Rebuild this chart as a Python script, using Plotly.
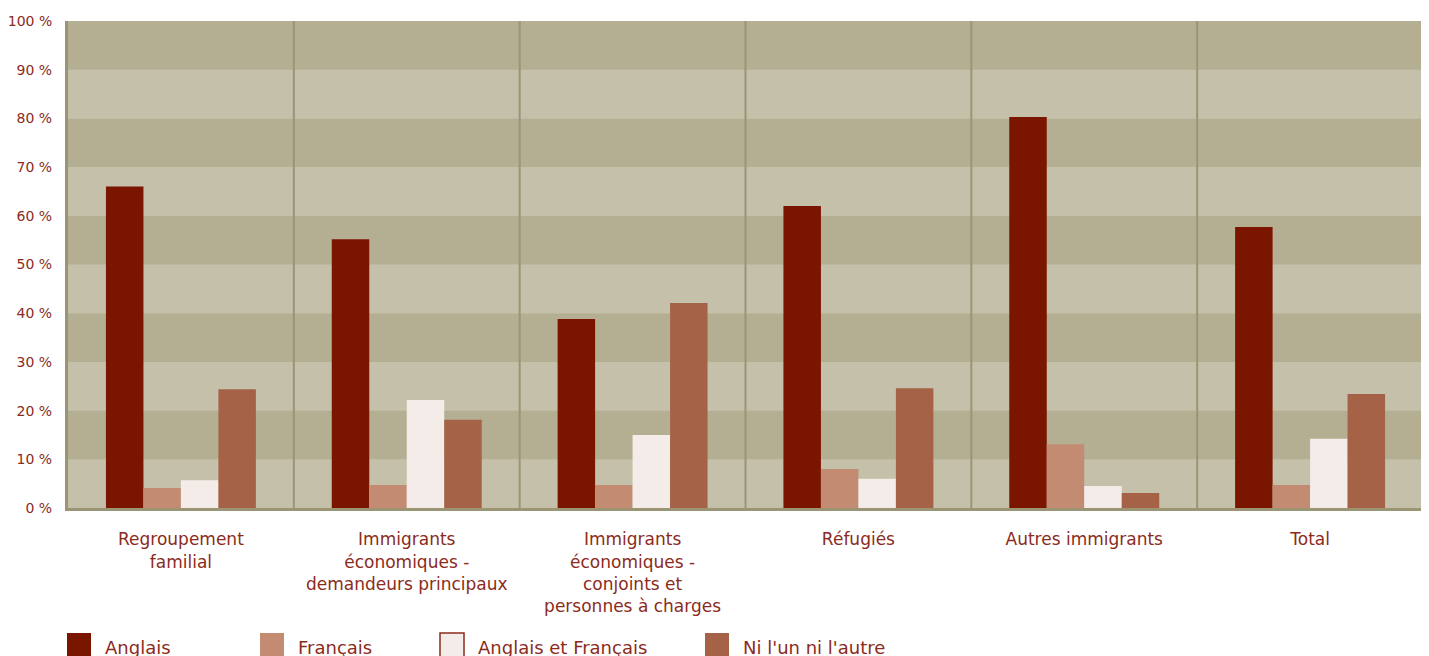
import plotly.graph_objects as go

categories = ["Regroupement<br>familial",
              "Immigrants<br>économiques -<br>demandeurs principaux",
              "Immigrants<br>économiques -<br>conjoints et<br>personnes à charges",
              "Réfugiés",
              "Autres immigrants",
              "Total"]
series_names = ["Anglais", "Français", "Anglais et Français", "Ni l'un ni l'autre"]
anglais = [66.0, 55.2, 38.8, 62.0, 80.3, 57.7]
francais = [4.1, 4.7, 4.7, 8.0, 13.1, 4.7]
anglais_francais = [5.7, 22.2, 15.0, 6.0, 4.5, 14.2]
ni_lun_ni_lautre = [24.4, 18.1, 42.1, 24.6, 3.1, 23.4]
y_ticks = [0, 10, 20, 30, 40, 50, 60, 70, 80, 90, 100]
y_tick_labels = ["0 %", "10 %", "20 %", "30 %", "40 %", "50 %", "60 %", "70 %", "80 %", "90 %", "100 %"]

colors = ["#7a1500", "#c48b73", "#f4ece8", "#a66247"]
text_color = "#8b2b1c"
axis_color = "#9a9574"
dark_band = "#b4af93"
light_band = "#c5c0aa"
font_family = "'DejaVu Sans', sans-serif"

# page body has an 8px default margin
OFF = 8
W, H = 1429 - OFF, 656 - OFF
L, R, T, B = 68 - OFF, 6, 21 - OFF, 148
pw, ph = W - L - R, H - T - B

def px_x(xp):
    return (xp - OFF - L) / pw

def px_y(yp):
    return (OFF + T + ph - yp) / ph

fig = go.Figure()
for name, vals, c in zip(series_names, [anglais, francais, anglais_francais, ni_lun_ni_lautre], colors):
    fig.add_trace(go.Bar(name=name, x=categories, y=vals, marker=dict(color=c, line=dict(width=0)),
                         showlegend=False))

shapes = []
for i in range(10):
    shapes.append(dict(type="rect", xref="paper", yref="y", x0=0, x1=1, y0=i * 10, y1=i * 10 + 10,
                       fillcolor=dark_band if i % 2 == 1 else light_band, line=dict(width=0), layer="below"))
for i in range(1, len(categories)):
    shapes.append(dict(type="line", xref="x", yref="paper", x0=i - 0.5, x1=i - 0.5, y0=0, y1=1,
                       line=dict(color=axis_color, width=2), layer="below"))
shapes.append(dict(type="line", xref="paper", yref="paper", x0=1, x1=1, y0=0, y1=1,
                   line=dict(color=axis_color, width=3)))

annotations = []
leg_x = [67, 260, 440, 705]
sq = 24
top_px = 633
for name, c, xp in zip(series_names, colors, leg_x):
    border = dict(color="#8b2b1c", width=1.5) if name == "Anglais et Français" else dict(width=0)
    shapes.append(dict(type="rect", xref="paper", yref="paper",
                       x0=px_x(xp), x1=px_x(xp + sq), y0=px_y(top_px + sq), y1=px_y(top_px),
                       fillcolor=c, line=border))
    annotations.append(dict(xref="paper", yref="paper", x=px_x(xp + sq + 12), y=px_y(647),
                            text=name, showarrow=False, xanchor="left", yanchor="middle",
                            font=dict(family=font_family, size=18, color=text_color)))

fig.update_layout(
    width=W, height=H,
    margin=dict(l=L, r=R, t=T, b=B, autoexpand=False),
    paper_bgcolor="white", plot_bgcolor=light_band,
    barmode="group", bargap=0.336, bargroupgap=0,
    shapes=shapes, annotations=annotations,
    font=dict(family=font_family, color=text_color),
    xaxis=dict(showgrid=False, ticks="outside", ticklen=14, tickcolor="rgba(0,0,0,0)",
               showline=True, linecolor=axis_color, linewidth=3,
               tickfont=dict(size=17, color=text_color), range=[-0.5, len(categories) - 0.5]),
    yaxis=dict(range=[0, 100], tickmode="array", tickvals=y_ticks, ticktext=y_tick_labels,
               showgrid=False, zeroline=False,
               showline=True, linecolor=axis_color, linewidth=3,
               ticks="outside", ticklen=10, tickcolor="rgba(0,0,0,0)",
               tickfont=dict(size=14, color=text_color), fixedrange=True),
)

fig.write_html("out.html")
